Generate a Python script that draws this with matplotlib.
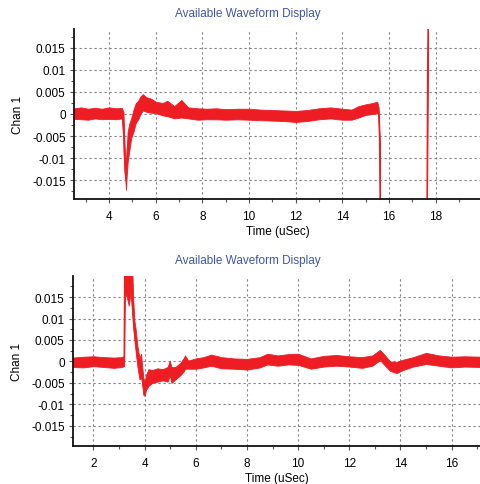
import matplotlib
matplotlib.use("Agg")
import matplotlib.pyplot as plt
from matplotlib.ticker import MultipleLocator, FuncFormatter

# ---------------- data (noise-band envelopes) ----------------
title_text = "Available Waveform Display"
x_label = "Time (uSec)"
y_label = "Chan 1"

top_t = [2.5, 2.8, 3.1, 3.4, 3.7, 4.0, 4.3, 4.55, 4.62, 4.66, 4.70, 4.73, 4.76, 4.80,
         4.88, 4.95, 5.05, 5.15, 5.25, 5.35, 5.45, 5.6, 5.8, 6.0, 6.3, 6.5, 6.8, 7.1,
         7.4, 7.8, 8.2, 8.6, 9.0, 9.5, 10.0, 10.5, 11.0, 11.5, 12.0, 12.5, 13.0, 13.5,
         14.0, 14.4, 14.7, 15.0, 15.3, 15.5, 15.56, 15.60, 15.64, 16.5, 17.63, 17.66,
         17.70, 20.0]
top_hi = [0.0013, 0.0015, 0.0012, 0.0014, 0.0012, 0.0015, 0.0013, 0.0014, 0.0005, -0.006,
          -0.010, -0.012, -0.008, -0.004, -0.002, -0.001, 0.001, 0.0025, 0.003, 0.004,
          0.0045, 0.0038, 0.0035, 0.0028, 0.0025, 0.0030, 0.0018, 0.0032, 0.0015, 0.0013,
          0.0012, 0.0013, 0.0011, 0.0012, 0.0012, 0.0010, 0.0009, 0.0008, 0.0007, 0.0009,
          0.0013, 0.0015, 0.0012, 0.0010, 0.0018, 0.0022, 0.0025, 0.0028, 0.0015, -0.004,
          -0.030, -0.030, -0.030, 0.009, 0.030, 0.030]
top_lo = [-0.0011, -0.0012, -0.0013, -0.0010, -0.0012, -0.0011, -0.0012, -0.0010, -0.006,
          -0.013, -0.015, -0.0172, -0.014, -0.011, -0.008, -0.0055, -0.004, -0.002,
          -0.0012, 0.0, 0.0008, 0.0005, 0.0003, 0.0002, -0.0003, -0.0005, -0.0010,
          -0.0008, -0.0010, -0.0013, -0.0012, -0.0012, -0.0013, -0.0012, -0.0013,
          -0.0014, -0.0015, -0.0016, -0.0018, -0.0016, -0.0012, -0.0010, -0.0013,
          -0.0013, -0.0008, -0.0002, 0.0, 0.0002, -0.0005, -0.0065, -0.030, -0.030,
          -0.030, 0.009, 0.030, 0.030]

bot_t = [1.2, 1.6, 2.0, 2.4, 2.8, 3.1, 3.2, 3.22, 3.3, 3.38, 3.45, 3.5, 3.55, 3.6, 3.65,
         3.72, 3.8, 3.86, 3.9, 3.95, 4.0, 4.05, 4.15, 4.3, 4.5, 4.7, 4.9, 4.98, 5.05, 5.2,
         5.4, 5.52, 5.58, 5.7, 6.0, 6.3, 6.6, 7.0, 7.5, 8.0, 8.5, 8.8, 9.2, 9.6, 10.0,
         10.5, 11.0, 11.5, 12.0, 12.5, 12.9, 13.2, 13.4, 13.6, 13.85, 14.1, 14.5, 15.0,
         15.5, 16.0, 16.5, 17.2]
bot_hi = [0.0009, 0.0011, 0.0012, 0.0010, 0.0009, 0.0010, 0.0013, 0.025, 0.025, 0.025,
          0.025, 0.025, 0.015, 0.0095, 0.0075, 0.0035, 0.0008, 0.0018, -0.0008, -0.0038,
          -0.0048, -0.0032, -0.0018, -0.0020, -0.0016, -0.0018, -0.0013, 0.0002, -0.0013,
          -0.0013, -0.0003, 0.0007, 0.0014, 0.0002, 0.0007, 0.0010, 0.0016, 0.0010, 0.0007,
          0.0006, 0.0010, 0.0018, 0.0014, 0.0017, 0.0018, 0.0007, 0.0013, 0.0015, 0.0012,
          0.0010, 0.0014, 0.0027, 0.0014, 0.0000, -0.0001, 0.0004, 0.0010, 0.0020,
          0.0014, 0.0011, 0.0012, 0.0011]
bot_lo = [-0.0013, -0.0014, -0.0011, -0.0013, -0.0015, -0.0013, -0.0011, 0.016, 0.015,
          0.013, 0.016, 0.012, 0.008, 0.005, 0.0022, -0.0013, -0.0042, -0.0037, -0.0052,
          -0.0078, -0.0080, -0.0067, -0.0057, -0.0050, -0.0047, -0.0044, -0.0047, -0.0032,
          -0.0050, -0.0042, -0.0032, -0.0024, -0.0017, -0.0017, -0.0017, -0.0014, -0.0010,
          -0.0016, -0.0017, -0.0019, -0.0014, -0.0007, -0.0010, -0.0007, -0.0008,
          -0.0017, -0.0012, -0.0010, -0.0012, -0.0015, -0.0010, 0.0003, -0.0010,
          -0.0022, -0.0027, -0.0020, -0.0012, -0.0006, -0.0010, -0.0014, -0.0012,
          -0.0013]

top_xlim = (2.5, 19.95)
bot_xlim = (1.2, 17.15)
top_ylim = (-0.0193, 0.0193)
bot_ylim = (-0.0197, 0.0199)

# ---------------- styling ----------------
RED = "#ee1d24"
BLUE = "#3f57a6"
plt.rcParams['font.family'] = ['Liberation Sans', 'DejaVu Sans']

fig = plt.figure(figsize=(4.81, 4.85), dpi=100)
W, H = 481, 485


def make_axes(left_px, top_px, bottom_px):
    return fig.add_axes([left_px / W, 1 - bottom_px / H,
                         1 - left_px / W, (bottom_px - top_px) / H])


def style(ax, t, hi, lo, xlim, ylim):
    ax.fill_between(t, lo, hi, color=RED, lw=0.6, edgecolor=RED)
    mid = [(a + b) / 2 for a, b in zip(hi, lo)]
    ax.plot(t, mid, color=RED, lw=1.0)
    ax.set_xlim(*xlim)
    ax.set_ylim(*ylim)
    ax.xaxis.set_major_locator(MultipleLocator(2))
    ax.xaxis.set_minor_locator(MultipleLocator(1))
    ax.yaxis.set_major_locator(MultipleLocator(0.005))
    ax.yaxis.set_minor_locator(MultipleLocator(0.0025))
    ax.yaxis.set_major_formatter(FuncFormatter(lambda v, p: f"{round(v, 4):g}" if abs(v) > 1e-9 else "0"))
    ax.xaxis.set_major_formatter(FuncFormatter(lambda v, p: f"{v:g}"))
    for s in ("top", "right"):
        ax.spines[s].set_visible(False)
    for s in ("left", "bottom"):
        ax.spines[s].set_linewidth(1.3)
        ax.spines[s].set_color("#111111")
    ax.tick_params(which="major", direction="out", length=3, width=0.8,
                   colors="#555555", labelcolor="black", labelsize=8.5, pad=3)
    ax.tick_params(axis="x", which="major", pad=5)
    ax.tick_params(which="minor", direction="out", length=2.5, width=0.8,
                   colors="#555555")
    ax.grid(True, which="major", color="#808080", lw=0.8, linestyle=(0, (2, 2.5)))
    ax.set_axisbelow(True)
    ax.set_xlabel(x_label, fontsize=8.5, labelpad=2)
    ax.set_ylabel(y_label, fontsize=8.5)
    ax.yaxis.set_label_coords(-0.122, 0.5)


ax1 = make_axes(74, 30, 200)
style(ax1, top_t, top_hi, top_lo, top_xlim, top_ylim)
ax2 = make_axes(73, 277, 447)
style(ax2, bot_t, bot_hi, bot_lo, bot_xlim, bot_ylim)

fig.text(248 / W, 1 - 14 / H, title_text, color=BLUE, fontsize=8.5, ha="center", va="center")
fig.text(248 / W, 1 - 261 / H, title_text, color=BLUE, fontsize=8.5, ha="center", va="center")

fig.savefig("out.png", dpi=100)
